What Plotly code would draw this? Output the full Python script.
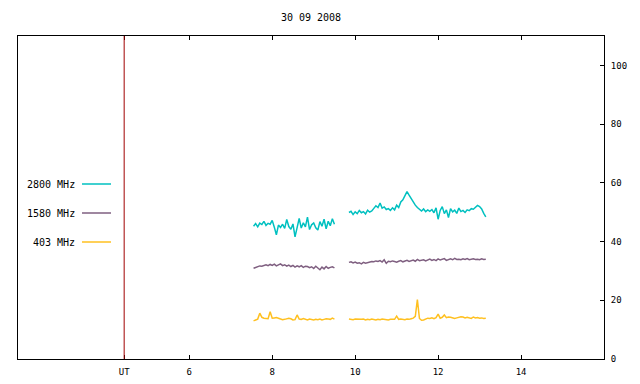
import plotly.graph_objects as go

title_text = "30 09 2008"
series_names = ["2800 MHz", "1580 MHz", "403 MHz"]
series_colors = ["#00c0c0", "#7f5f80", "#ffc020"]

step_h = 0.05
start_a = 7.55
start_b = 9.85

f2800_a = [45.2, 46.1, 45.0, 46.3, 45.8, 46.9, 45.5, 46.2, 45.9, 47.2,
           44.9, 42.3, 45.6, 44.8, 45.9, 44.5, 47.5, 45.1, 44.2, 46.0,
           41.6, 45.3, 47.9, 44.6, 46.4, 45.0, 48.3, 44.1, 45.7, 46.3,
           44.7, 43.9, 46.8, 45.2, 47.6, 44.3, 46.9, 45.4, 47.8, 45.9]
f2800_b = [49.9, 50.3, 49.2, 50.1, 49.5, 50.6, 49.8, 50.2, 49.4, 50.7,
           50.0, 50.4, 51.3, 52.2, 51.6, 53.1, 51.4, 51.8, 50.9, 51.2,
           50.6, 51.5, 50.8, 52.4, 51.6, 53.5, 54.2, 55.6, 57.0, 55.8,
           54.6, 53.2, 52.4, 51.6, 51.0, 50.4, 51.1, 50.2, 50.8, 50.3,
           50.9, 49.8, 51.5, 47.6, 50.6, 51.9, 49.5, 50.8, 48.2, 51.2,
           50.1, 50.7, 49.6, 51.4, 50.2, 50.6, 49.9, 50.8, 50.5, 51.2,
           51.0, 51.8, 52.3, 51.9, 51.1, 49.6, 48.4]

f1580_a = [30.9, 31.2, 31.4, 31.7, 31.6, 31.9, 32.1, 31.8, 32.2, 31.9,
           32.3, 31.7, 32.0, 32.4, 31.8, 32.1, 31.6, 32.0, 31.5, 31.9,
           31.3, 31.7, 31.4, 31.8, 31.2, 31.6, 31.5, 31.1, 31.4, 30.8,
           31.6, 31.0, 30.4, 31.3, 30.7, 31.5, 30.9, 31.2, 31.4, 31.0]
f1580_b = [32.9, 33.1, 32.7, 33.0, 32.6, 32.8, 32.4, 32.9, 32.6, 32.8,
           33.0, 33.2, 33.1, 33.4, 33.2, 33.5, 33.0, 33.8, 32.6, 33.3,
           33.1, 33.4, 33.2, 33.0, 33.3, 33.5, 33.1, 33.4, 33.6, 33.2,
           33.5, 33.7, 33.3, 33.9, 33.5, 33.6, 33.8, 33.4, 33.7, 34.0,
           33.6, 33.9, 33.5, 34.1, 33.7, 33.9, 34.2, 33.6, 33.9, 34.1,
           33.8, 34.3, 33.9, 34.0, 33.8, 34.1, 33.9, 34.2, 33.8, 34.0,
           34.1, 33.9, 34.0, 33.8, 34.1, 33.9, 34.0]

f403_a = [13.0, 13.3, 13.6, 15.6, 14.2, 13.9, 13.8, 13.7, 16.1, 13.9,
          14.0, 14.1, 13.9, 13.6, 13.4, 13.5, 13.8, 13.9, 13.7, 13.3,
          13.4, 15.0, 13.6, 13.5, 13.8, 13.5, 13.3, 13.6, 13.4, 13.3,
          13.5, 13.4, 13.6, 13.3, 13.5, 13.7, 13.6, 13.5, 13.9, 13.6]
f403_b = [13.6, 13.5, 13.4, 13.6, 13.5, 13.4, 13.5, 13.6, 13.3, 13.5,
          13.4, 13.6, 13.5, 13.3, 13.5, 13.4, 13.6, 13.5, 13.4, 13.3,
          13.5, 13.6, 13.5, 14.6, 13.5, 13.6, 13.5, 13.4, 13.6, 13.5,
          13.7, 13.9, 14.5, 20.2, 13.8, 13.2, 13.3, 13.6, 13.9, 13.8,
          14.0, 13.7, 14.1, 15.3, 13.9, 14.2, 15.0, 14.1, 14.3, 14.2,
          13.9, 13.8, 14.0, 14.2, 14.4, 14.3, 14.0, 14.2, 14.1, 13.8,
          14.3, 14.0, 14.1, 13.9, 14.0, 13.8, 13.9]

ut_marker = 4.43
x_tick_vals = [ut_marker, 6, 8, 10, 12, 14]
x_tick_text = ["UT", "6", "8", "10", "12", "14"]
y_tick_vals = [0, 20, 40, 60, 80, 100]


def times(start, n):
    return [round(start + step_h * i, 4) for i in range(n)]


segments = [
    (f2800_a, f2800_b),
    (f1580_a, f1580_b),
    (f403_a, f403_b),
]

fig = go.Figure()
for (seg_a, seg_b), name, color in zip(segments, series_names, series_colors):
    x = times(start_a, len(seg_a)) + [None] + times(start_b, len(seg_b))
    y = seg_a + [None] + seg_b
    fig.add_trace(go.Scatter(x=x, y=y, mode="lines", name=name,
                             line=dict(color=color, width=1.5), connectgaps=False,
                             showlegend=False))

mono = "DejaVu Sans Mono"

fig.add_shape(type="line", xref="x", yref="paper", x0=ut_marker, x1=ut_marker,
              y0=0, y1=1, line=dict(color="#a00000", width=1))

# page offset of 8px (body margin) compensated
OFF = 8
PL, PR, PT, PB = 18, 604, 36, 359  # plot area in page pixels

legend_y = [184, 213, 242]
for name, color, py in zip(series_names, series_colors, legend_y):
    yp = (PB - py) / (PB - PT)
    xl0 = (82 - PL) / (PR - PL)
    xl1 = (111 - PL) / (PR - PL)
    fig.add_shape(type="line", xref="paper", yref="paper", x0=xl0, x1=xl1,
                  y0=yp, y1=yp, line=dict(color=color, width=1.5))
    fig.add_annotation(xref="paper", yref="paper", x=(77 - PL) / (PR - PL), y=yp,
                       text=name, showarrow=False, xanchor="right", yanchor="middle",
                       font=dict(family=mono, size=10, color="black"))

W, H = 640 - OFF, 384 - OFF
fig.update_layout(
    width=W, height=H,
    margin=dict(l=PL - OFF, r=640 - PR, t=PT - OFF, b=384 - PB, autoexpand=False),
    paper_bgcolor="white", plot_bgcolor="white",
    title=dict(text=title_text, x=(311 - OFF) / W, xanchor="center",
               y=1 - (17 - OFF) / H, yanchor="middle",
               font=dict(family=mono, size=10, color="black")),
    showlegend=False,
)
fig.update_xaxes(range=[1.87, 16.0], tickvals=x_tick_vals, ticktext=x_tick_text,
                 ticks="inside", ticklen=4, tickcolor="black", showgrid=False,
                 zeroline=False, showline=True, linecolor="black", linewidth=1,
                 mirror="ticks", ticklabelstandoff=4,
                 tickfont=dict(family=mono, size=9, color="black"))
fig.update_yaxes(range=[0, 110], tickvals=y_tick_vals, side="right",
                 ticks="inside", ticklen=4, tickcolor="black", showgrid=False,
                 zeroline=False, showline=True, linecolor="black", linewidth=1,
                 mirror=True, ticklabelstandoff=4,
                 tickfont=dict(family=mono, size=9, color="black"))

fig.write_html("out.html")
